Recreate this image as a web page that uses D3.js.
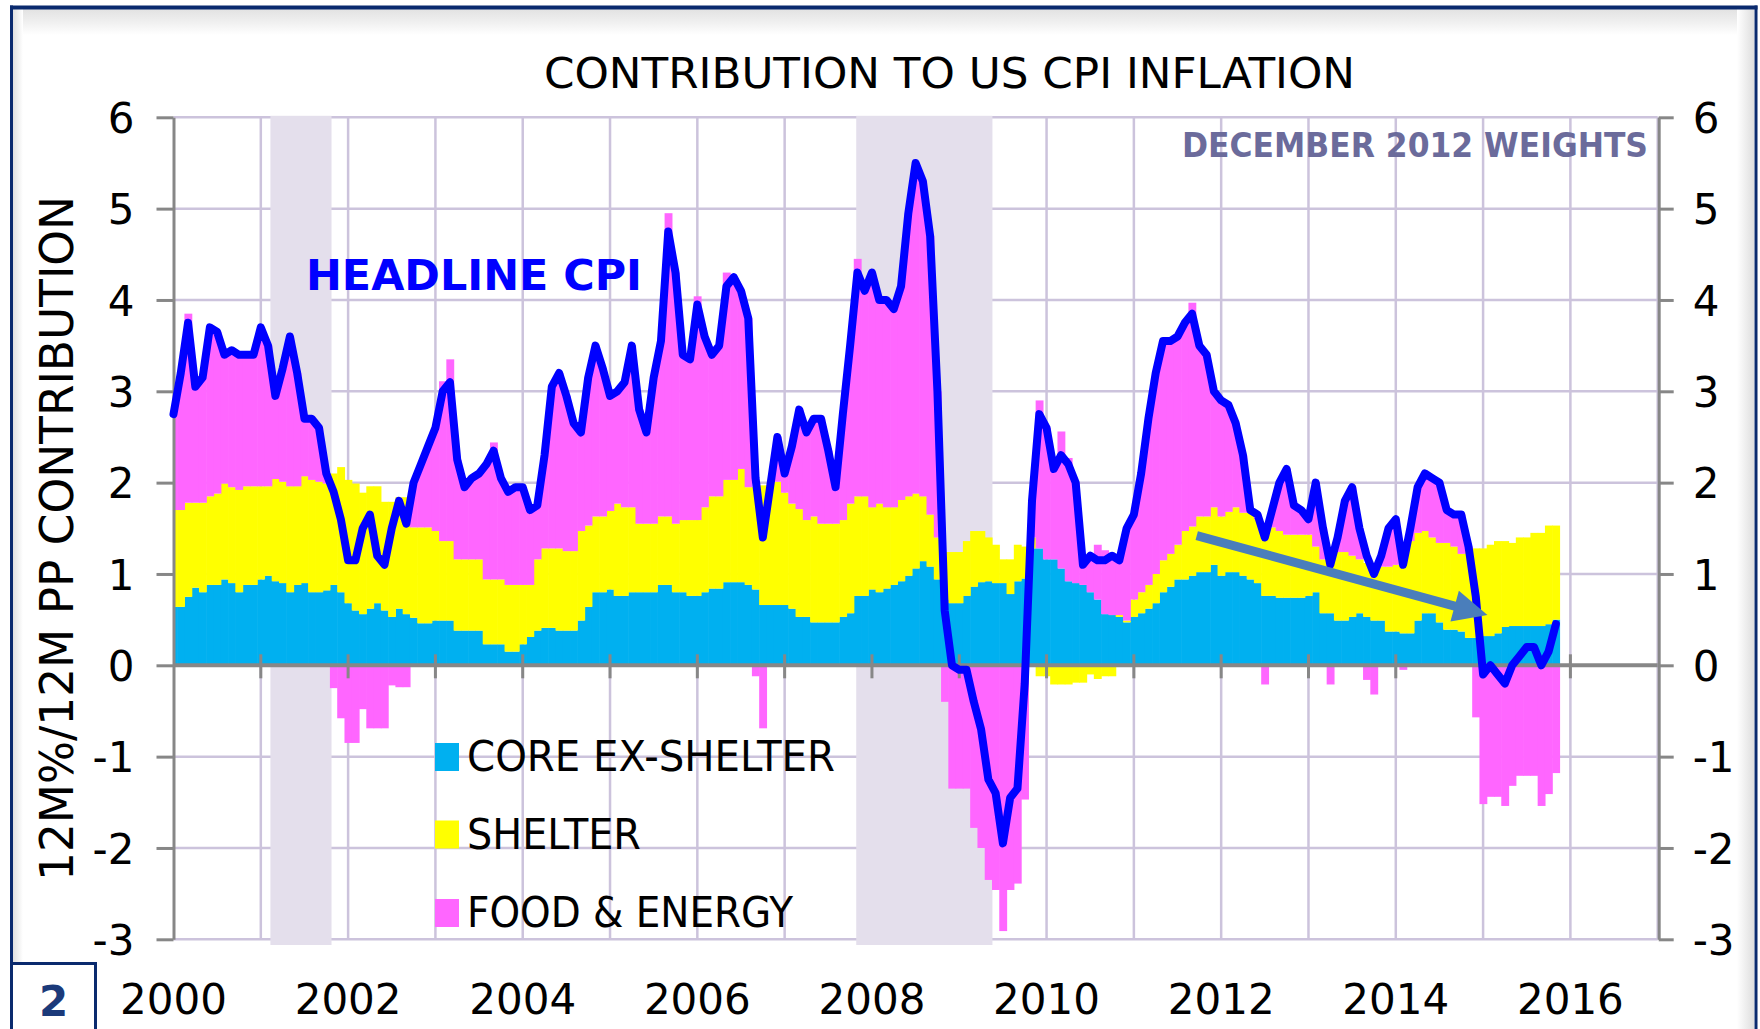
<!DOCTYPE html>
<html><head><meta charset="utf-8">
<script src="https://cdn.jsdelivr.net/npm/d3@7"></script>
<style>html,body{margin:0;padding:0;background:#fff;} svg{display:block;}</style>
</head><body>
<svg id="chart" width="1760" height="1029"></svg>
<script>
// ---------- DATA (monthly, Jan 2000 .. Nov 2015), percentage-point contributions ----------
const core = [
0.64,0.64,0.75,0.85,0.80,0.88,0.88,0.94,0.90,0.80,0.88,0.88,
0.94,0.98,0.92,0.90,0.80,0.88,0.90,0.80,0.80,0.82,0.88,0.80,
0.68,0.60,0.56,0.62,0.68,0.60,0.53,0.62,0.56,0.52,0.46,0.46,
0.49,0.49,0.49,0.38,0.38,0.38,0.38,0.23,0.23,0.23,0.15,0.15,
0.23,0.31,0.38,0.41,0.41,0.38,0.38,0.38,0.49,0.64,0.80,0.80,
0.83,0.76,0.76,0.80,0.80,0.80,0.80,0.88,0.88,0.80,0.80,0.76,
0.76,0.80,0.84,0.84,0.91,0.91,0.91,0.88,0.83,0.66,0.66,0.66,
0.66,0.62,0.53,0.53,0.47,0.47,0.47,0.47,0.53,0.57,0.76,0.76,
0.83,0.80,0.84,0.88,0.92,0.98,1.06,1.14,1.08,0.94,0.72,0.68,
0.68,0.76,0.86,0.91,0.92,0.90,0.90,0.78,0.92,0.95,1.28,1.28,
1.16,1.16,1.06,0.92,0.90,0.88,0.80,0.72,0.56,0.55,0.53,0.47,
0.53,0.57,0.62,0.68,0.80,0.86,0.94,0.94,0.98,1.02,1.02,1.10,
0.98,1.02,1.02,0.98,0.94,0.90,0.76,0.76,0.74,0.74,0.74,0.74,
0.76,0.80,0.57,0.57,0.49,0.49,0.53,0.57,0.53,0.49,0.49,0.37,
0.37,0.35,0.35,0.49,0.57,0.57,0.47,0.39,0.39,0.37,0.30,0.30,
0.32,0.32,0.35,0.42,0.43,0.43,0.43,0.43,0.43,0.45,0.50
];
const shelter = [
1.06,1.06,1.03,0.93,0.98,0.97,1.00,1.05,1.05,1.12,1.08,1.08,
1.02,0.98,1.12,1.11,1.16,1.08,1.17,1.23,1.21,1.17,1.22,1.37,
1.35,1.39,1.33,1.34,1.28,1.19,1.26,1.22,1.28,0.99,1.05,1.05,
0.98,0.87,0.87,0.78,0.78,0.78,0.78,0.71,0.71,0.71,0.73,0.73,
0.65,0.57,0.78,0.87,0.87,0.90,0.87,0.87,0.98,0.89,0.83,0.83,
0.86,1.01,0.97,0.93,0.75,0.75,0.75,0.75,0.75,0.75,0.79,0.83,
0.83,0.93,1.01,1.01,1.12,1.12,1.24,1.07,1.12,1.31,1.31,1.35,
1.23,1.15,1.18,1.06,1.16,1.08,1.08,1.08,1.06,1.20,1.09,1.09,
0.90,0.97,0.89,0.85,0.89,0.87,0.82,0.71,0.57,0.46,0.52,0.56,
0.56,0.60,0.61,0.56,0.48,0.42,0.26,0.38,0.40,0.35,0.12,-0.12,
-0.12,-0.21,-0.21,-0.21,-0.19,-0.19,-0.10,-0.15,-0.12,-0.12,0.02,0.02,
0.19,0.23,0.26,0.32,0.35,0.36,0.38,0.53,0.54,0.61,0.61,0.63,
0.65,0.66,0.71,0.69,0.73,0.70,0.75,0.75,0.73,0.69,0.69,0.69,
0.67,0.50,0.59,0.63,0.75,0.75,0.67,0.59,0.59,0.61,0.59,0.71,
0.73,0.85,1.01,0.96,0.90,0.83,0.87,0.95,0.91,0.85,0.98,0.98,
0.96,1.00,1.01,0.94,0.91,0.97,0.97,1.02,1.02,1.08,1.03
];
const foodEnergy = [
1.05,1.50,2.07,1.27,1.37,1.85,1.77,1.41,1.50,1.48,1.44,1.44,
1.74,1.54,0.91,1.24,1.64,1.24,0.63,0.67,0.59,0.11,-0.25,-0.58,
-0.85,-0.85,-0.48,-0.69,-0.69,-0.69,-0.22,-0.24,-0.24,0.49,0.69,0.89,
1.13,1.75,1.99,1.09,0.79,0.89,0.94,1.26,1.50,1.11,1.02,1.07,
1.07,0.82,0.59,1.02,1.77,1.92,1.70,1.40,1.08,1.62,1.87,1.62,
1.26,1.23,1.37,1.77,1.25,1.00,1.60,1.92,3.32,2.75,1.81,1.76,
2.45,1.87,1.55,1.65,2.27,2.22,1.95,1.85,-0.12,-0.69,0.00,0.49,
0.21,0.63,1.09,0.96,1.07,1.15,0.80,0.40,1.16,1.73,2.60,2.25,
2.57,2.23,2.27,2.17,2.34,3.10,3.62,3.45,3.05,1.60,-0.40,-1.35,
-1.35,-1.35,-1.78,-2.00,-2.35,-2.46,-2.91,-2.46,-2.39,-1.47,0.40,1.62,
1.44,0.99,1.50,1.35,1.10,0.22,0.40,0.60,0.70,0.65,0.60,1.01,
0.93,1.30,1.82,2.20,2.40,2.33,2.28,2.28,2.45,1.87,1.77,1.27,
1.27,1.17,0.92,0.63,0.03,0.05,-0.21,0.19,0.53,0.72,0.32,0.27,
0.17,0.70,0.34,-0.21,0.16,0.56,0.75,0.34,-0.16,-0.32,0.12,0.42,
0.50,-0.05,0.14,0.50,0.63,0.65,0.66,0.36,0.35,0.43,0.02,-0.57,
-1.52,-1.44,-1.44,-1.54,-1.32,-1.21,-1.21,-1.21,-1.54,-1.41,-1.18
];
const headline = [
2.75,3.2,3.75,3.05,3.15,3.7,3.65,3.4,3.45,3.4,3.4,3.4,
3.7,3.5,2.95,3.25,3.6,3.2,2.7,2.7,2.6,2.1,1.9,1.6,
1.15,1.15,1.5,1.65,1.2,1.1,1.5,1.8,1.55,2.0,2.2,2.4,
2.6,3.0,3.1,2.25,1.95,2.05,2.1,2.2,2.35,2.05,1.9,1.95,
1.95,1.7,1.75,2.3,3.05,3.2,2.95,2.65,2.55,3.15,3.5,3.25,
2.95,3.0,3.1,3.5,2.8,2.55,3.15,3.55,4.75,4.3,3.4,3.35,
3.95,3.6,3.4,3.5,4.15,4.25,4.1,3.8,2.05,1.4,1.95,2.5,
2.1,2.4,2.8,2.55,2.7,2.7,2.35,1.95,2.75,3.5,4.3,4.1,
4.3,4.0,4.0,3.9,4.15,4.95,5.5,5.3,4.7,3.0,0.6,0.0,
-0.05,-0.05,-0.4,-0.7,-1.25,-1.4,-1.95,-1.45,-1.35,-0.2,1.8,2.75,
2.6,2.15,2.3,2.2,2.0,1.1,1.2,1.15,1.15,1.2,1.15,1.5,
1.65,2.1,2.7,3.2,3.55,3.55,3.6,3.75,3.85,3.5,3.4,3.0,
2.9,2.85,2.65,2.3,1.7,1.65,1.4,1.7,2.0,2.15,1.75,1.7,
1.6,2.0,1.5,1.1,1.4,1.8,1.95,1.5,1.2,1.0,1.2,1.5,
1.6,1.1,1.5,1.95,2.1,2.05,2.0,1.7,1.65,1.65,1.3,0.75,
-0.1,0.0,-0.1,-0.2,0.0,0.1,0.2,0.2,0.0,0.15,0.45
];
const startYear = 2000;                     // first month = Jan 2000
const seriesKeys = ["core","shelter","foodEnergy"];
const seriesNames = ["CORE EX-SHELTER","SHELTER","FOOD & ENERGY"];
const seriesColors = ["#00B0F0","#FFFF00","#FF66FF"];
const yTicks = [-3,-2,-1,0,1,2,3,4,5,6];
const xTickLabels = ["2000","2002","2004","2006","2008","2010","2012","2014","2016"];
const yearGridlines = [2001,2002,2003,2004,2005,2006,2007,2008,2009,2010,2011,2012,2013,2014,2015,2016,2017];
const recessions = [[2001.11, 2001.81], [2007.82, 2009.38]];
const trendArrow = {from: [2011.72, 1.42], to: [2015.05, 0.55]};

// ---------- SETUP ----------
const FONT = "'DejaVu Sans', Verdana, sans-serif";
const GRID = "#CCC3DC", AXIS = "#878787", NAVY = "#0A2A6E";
const svg = d3.select("#chart");
const x = d3.scaleLinear().domain([2000, 2017]).range([173.5, 1657.7]);
const y = d3.scaleLinear().domain([-3, 6]).range([939.3, 117.3]);
const defs = svg.append("defs");

svg.append("rect").attr("width",1760).attr("height",1029).attr("fill","#fff");

// frame gradients
const gTop = defs.append("linearGradient").attr("id","gTop").attr("x1",0).attr("y1",0).attr("x2",0).attr("y2",1);
gTop.append("stop").attr("offset",0).attr("stop-color","#e2e2e2");
gTop.append("stop").attr("offset",0.45).attr("stop-color","#eeeeee");
gTop.append("stop").attr("offset",1).attr("stop-color","#ffffff");
const gLeft = defs.append("linearGradient").attr("id","gLeft").attr("x1",0).attr("y1",0).attr("x2",1).attr("y2",0);
gLeft.append("stop").attr("offset",0).attr("stop-color","#e0e0e0");
gLeft.append("stop").attr("offset",1).attr("stop-color","#ffffff");
const gRight = defs.append("linearGradient").attr("id","gRight").attr("x1",0).attr("y1",0).attr("x2",1).attr("y2",0);
gRight.append("stop").attr("offset",0).attr("stop-color","#ffffff");
gRight.append("stop").attr("offset",1).attr("stop-color","#dedede");
svg.append("rect").attr("x",13).attr("y",9).attr("width",1741).attr("height",26).attr("fill","url(#gTop)");
svg.append("rect").attr("x",13).attr("y",9).attr("width",10).attr("height",1020).attr("fill","url(#gLeft)");
svg.append("rect").attr("x",1737).attr("y",9).attr("width",17).attr("height",1020).attr("fill","url(#gRight)");
svg.append("rect").attr("x",10).attr("y",5.5).attr("width",1747.5).attr("height",4).attr("fill",NAVY);
svg.append("rect").attr("x",10).attr("y",5.5).attr("width",3).attr("height",1030).attr("fill",NAVY);
svg.append("rect").attr("x",1754.5).attr("y",5.5).attr("width",3).attr("height",1030).attr("fill",NAVY);

// ---------- GRID ----------
const grid = svg.append("g");
grid.selectAll("line.h").data(yTicks.filter(d => d !== 0)).join("line")
  .attr("x1", x(2000)).attr("x2", x(2017)).attr("y1", d => y(d)).attr("y2", d => y(d))
  .attr("stroke", GRID).attr("stroke-width", 2.5);
grid.selectAll("line.v").data(yearGridlines).join("line")
  .attr("x1", d => x(d)).attr("x2", d => x(d)).attr("y1", y(6)).attr("y2", y(-3))
  .attr("stroke", GRID).attr("stroke-width", 2.5);

// recession shading
svg.append("g").selectAll("rect").data(recessions).join("rect")
  .attr("x", d => x(d[0])).attr("width", d => x(d[1]) - x(d[0]))
  .attr("y", y(6) - 1.5).attr("height", 945 - y(6) + 1.5).attr("fill", "#E4DFEC");

// ---------- STACKED BARS ----------
const rows = core.map((c, i) => ({t: startYear + i / 12, core: c, shelter: shelter[i], foodEnergy: foodEnergy[i]}));
const stacked = d3.stack().keys(seriesKeys).offset(d3.stackOffsetDiverging)(rows);
defs.append("clipPath").attr("id","plotClip").append("rect")
  .attr("x", x(2000)).attr("y", 0).attr("width", x(2017) - x(2000)).attr("height", 1029);
const halfMonth = 0.5 / 12;
const bars = svg.append("g").attr("clip-path","url(#plotClip)");
stacked.forEach((layer, k) => {
  bars.append("g").attr("fill", seriesColors[k]).selectAll("rect").data(layer).join("rect")
    .attr("x", d => x(d.data.t - halfMonth))
    .attr("width", d => x(d.data.t + halfMonth) - x(d.data.t - halfMonth) + 0.6)
    .attr("y", d => y(Math.max(d[0], d[1])))
    .attr("height", d => Math.abs(y(d[0]) - y(d[1])));
});

// ---------- AXES ----------
const gL = svg.append("g").attr("transform", `translate(${x(2000)},0)`)
  .call(d3.axisLeft(y).tickValues(yTicks).tickSize(17).tickSizeOuter(0).tickPadding(22).tickFormat(d => String(d)));
const gR = svg.append("g").attr("transform", `translate(${x(2017) + 1},0)`)
  .call(d3.axisRight(y).tickValues(yTicks).tickSize(15).tickSizeOuter(0).tickPadding(19).tickFormat(d => String(d)));
[gL, gR].forEach(g => {
  g.select(".domain").attr("stroke", AXIS).attr("stroke-width", 3);
  g.selectAll(".tick line").attr("stroke", AXIS).attr("stroke-width", 3);
  g.selectAll(".tick text").attr("font-family", FONT).attr("font-size", 42).attr("fill", "#000").attr("dy", "0.36em");
});
// zero line with yearly ticks
svg.append("line").attr("x1", x(2000)).attr("x2", x(2017)).attr("y1", y(0)).attr("y2", y(0))
  .attr("stroke", AXIS).attr("stroke-width", 4);
svg.append("g").selectAll("line").data(yearGridlines.filter(d => d < 2017)).join("line")
  .attr("x1", d => x(d)).attr("x2", d => x(d)).attr("y1", y(0) - 11).attr("y2", y(0) + 13)
  .attr("stroke", AXIS).attr("stroke-width", 3);
// x labels
svg.append("g").selectAll("text").data(xTickLabels).join("text")
  .attr("x", d => x(+d)).attr("y", 1014).attr("text-anchor", "middle")
  .attr("font-family", FONT).attr("font-size", 42).attr("fill", "#000").text(d => d);

// ---------- HEADLINE LINE ----------
svg.append("path").datum(headline)
  .attr("d", d3.line().x((d, i) => x(startYear + i / 12)).y(d => y(d)))
  .attr("fill", "none").attr("stroke", "#0000FF").attr("stroke-width", 8)
  .attr("stroke-linejoin", "round").attr("stroke-linecap", "round");

// ---------- TREND ARROW ----------
(function () {
  const x0 = x(trendArrow.from[0]), y0 = y(trendArrow.from[1]);
  const x1 = x(trendArrow.to[0]), y1 = y(trendArrow.to[1]);
  const len = Math.hypot(x1 - x0, y1 - y0), ux = (x1 - x0) / len, uy = (y1 - y0) / len;
  const hl = 34, hw = 16, bx = x1 - ux * hl, by = y1 - uy * hl;
  svg.append("line").attr("x1", x0).attr("y1", y0).attr("x2", bx + ux * 2).attr("y2", by + uy * 2)
    .attr("stroke", "#4A7EBB").attr("stroke-width", 9);
  svg.append("polygon")
    .attr("points", [[x1, y1], [bx - uy * hw, by + ux * hw], [bx + uy * hw, by - ux * hw]].map(p => p.join(",")).join(" "))
    .attr("fill", "#4A7EBB");
})();

// ---------- TEXTS ----------
function txt(s, xx, yy, size, len, opts = {}) {
  const t = svg.append("text").attr("x", xx).attr("y", yy).attr("font-family", FONT)
    .attr("font-size", size).attr("fill", opts.fill || "#000").attr("font-weight", opts.weight || "normal")
    .attr("text-anchor", opts.anchor || "start").text(s);
  if (len) t.attr("textLength", len).attr("lengthAdjust", "spacingAndGlyphs");
  if (opts.transform) t.attr("transform", opts.transform);
  return t;
}
txt("CONTRIBUTION TO US CPI INFLATION", 949.5, 88, 42, 811, {anchor: "middle"});
txt("HEADLINE CPI", 306, 290, 43, 336, {fill: "#0000FF", weight: "bold"});
txt("DECEMBER 2012 WEIGHTS", 1182, 157, 34, 466, {fill: "#6B6B9B", weight: "bold"});
txt("12M%/12M PP CONTRIBUTION", 0, 0, 47, 685, {anchor: "middle", transform: "translate(73,538.5) rotate(-90)"});

// legend
const legendY = [771, 848.5, 927];
seriesNames.forEach((name, k) => {
  svg.append("rect").attr("x", 435).attr("y", legendY[k] - 28).attr("width", 24).attr("height", 28).attr("fill", seriesColors[k]);
  txt(name, 467, legendY[k], 42, [368, 174, 326][k]);
});

// page number box
svg.append("rect").attr("x", 11.5).attr("y", 963.5).attr("width", 84).attr("height", 80)
  .attr("fill", "#fff").attr("stroke", NAVY).attr("stroke-width", 3);
txt("2", 53.5, 1016, 42, null, {anchor: "middle", fill: "#1B3A7A", weight: "bold"});
</script>
</body></html>
